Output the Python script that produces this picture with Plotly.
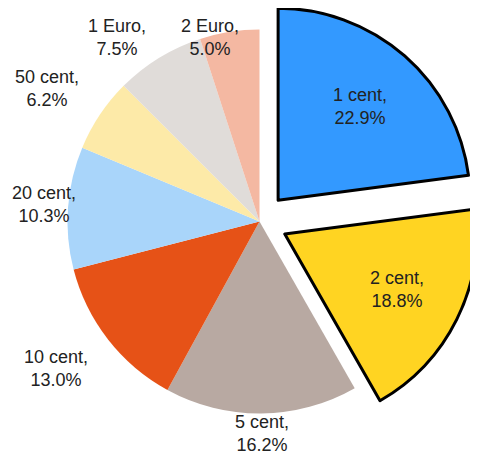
import math
import plotly.graph_objects as go

labels = ["1 cent", "2 cent", "5 cent", "10 cent", "20 cent", "50 cent", "1 Euro", "2 Euro"]
values = [22.9, 18.8, 16.2, 13.0, 10.3, 6.2, 7.5, 5.0]
colors = ["#3399FF", "#FFD422", "#B8A9A2", "#E65217", "#A9D5FA", "#FDEAA8", "#E0DCD9", "#F4B8A2"]
exploded = [True, True, False, False, False, False, False, False]

W, H = 478, 457
PAGE_OFFSET = 8          # default page margin around the plot
VIS_W, VIS_H = W - PAGE_OFFSET, H - PAGE_OFFSET
FONT = 18
FONT_FAMILY = "Liberation Sans, Arial, sans-serif"
TEXT_COLOR = "#222222"
CX, CY, R = 251.5, 213.5, 192.0      # pie centre / radius in figure pixels
EXPLODE = 0.147                       # explode distance as a fraction of R
INSIDE_FRAC = 0.65                    # inside label distance as a fraction of R
TRANSPARENT = "rgba(0,0,0,0)"

total = sum(values)
label_text = [f"{l},<br>{v / total * 100:.1f}%" for l, v in zip(labels, values)]

# mid angle of every slice (clockwise from 12 o'clock)
mids = []
cum = 0.0
for v in values:
    mids.append((cum + v / 2) / total * 2 * math.pi)
    cum += v


def domain_for(cx, cy):
    x0, x1 = (cx - R) / W, (cx + R) / W
    y0, y1 = 1 - (cy + R) / H, 1 - (cy - R) / H
    return dict(x=[max(0, x0), min(1, x1)], y=[max(0, y0), min(1, y1)])


def pie_trace(show, cx, cy, border):
    return go.Pie(
        labels=labels,
        values=values,
        sort=False,
        direction="clockwise",
        rotation=0,
        marker=dict(colors=[c if s else TRANSPARENT for c, s in zip(colors, show)],
                    line=dict(color="black", width=[border if s else 0 for s in show])),
        textinfo="none",
        domain=domain_for(cx, cy),
        showlegend=False,
        hoverinfo="label+percent",
    )


def text_annotation(cx_px, cy_px, txt):
    return dict(
        x=cx_px / W, y=1 - cy_px / H,
        xref="paper", yref="paper", xanchor="center", yanchor="middle",
        text=txt, showarrow=False, align="center",
        font=dict(family=FONT_FAMILY, size=FONT, color=TEXT_COLOR),
    )


fig = go.Figure()
annotations = []
# the slices that stay in place
fig.add_trace(pie_trace([not e for e in exploded], CX, CY, 0))
# every exploded slice, moved out along its mid angle, with its label inside
for i, e in enumerate(exploded):
    if not e:
        continue
    dx, dy = math.sin(mids[i]), -math.cos(mids[i])
    ecx, ecy = CX + dx * EXPLODE * R, CY + dy * EXPLODE * R
    fig.add_trace(pie_trace([j == i for j in range(len(values))], ecx, ecy, 3))
    annotations.append(text_annotation(ecx + dx * INSIDE_FRAC * R,
                                       ecy + dy * INSIDE_FRAC * R, label_text[i]))

CHAR_W = {c: 0.556 for c in "0123456789"}
CHAR_W.update({" ": 0.278, "c": 0.5, "e": 0.556, "n": 0.556, "t": 0.278, ",": 0.278,
               ".": 0.278, "%": 0.889, "E": 0.667, "u": 0.556, "r": 0.333, "o": 0.556})


def text_width(s):
    return sum(CHAR_W.get(ch, 0.556) for ch in s) * FONT


GAP = 24
PAD_L, PAD_T, BOTTOM_LIMIT = 3, 6, VIS_H
box_h = 2 * 1.3 * FONT

for txt, mid, e in zip(label_text, mids, exploded):
    if e:
        continue
    dx, dy = math.sin(mid), -math.cos(mid)  # screen direction (y down)
    px = CX + dx * (R + GAP)
    py = CY + dy * (R + GAP)
    bw = max(text_width(line) for line in txt.split("<br>")) + 2
    mx = px + bw / 2 * max(-1.0, min(1.0, dx / 0.3))
    my = py + box_h / 2 * dy
    # keep inside the visible picture
    left = min(max(mx - bw / 2, PAD_L), VIS_W - bw)
    top = min(max(my - box_h / 2, PAD_T), BOTTOM_LIMIT - box_h)
    annotations.append(text_annotation(left + bw / 2, top + box_h / 2, txt))

fig.update_layout(
    width=W, height=H,
    margin=dict(l=0, r=0, t=0, b=0),
    paper_bgcolor="white",
    plot_bgcolor="white",
    annotations=annotations,
)
fig.write_html("out.html")
